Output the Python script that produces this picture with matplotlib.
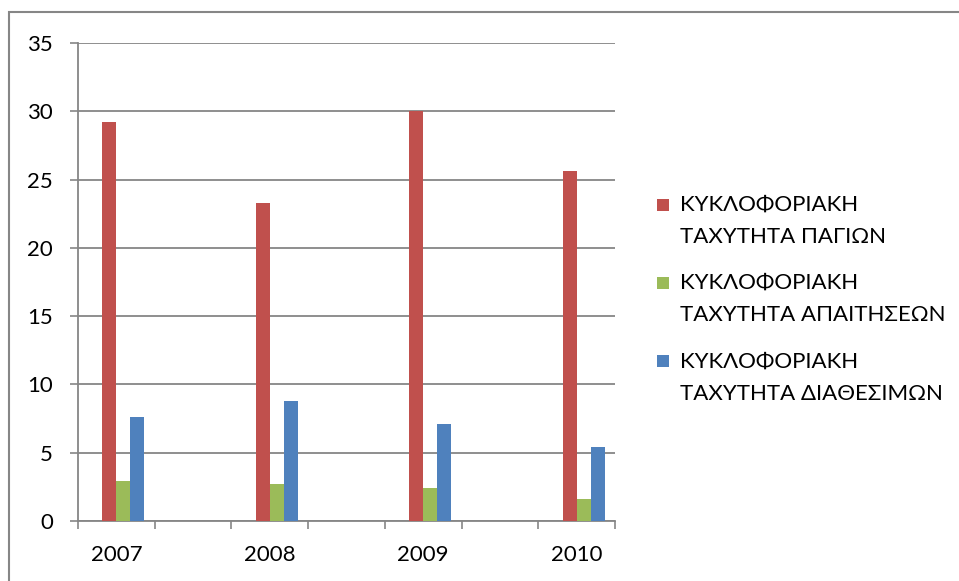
import matplotlib
matplotlib.use("Agg")
import matplotlib.pyplot as plt
import numpy as np
from matplotlib.container import BarContainer
from matplotlib.legend_handler import HandlerPatch
from matplotlib.patches import Rectangle

years = ["2007", "2008", "2009", "2010"]
fixed_assets = [29.2, 23.3, 30.0, 25.6]     # ΠΑΓΙΩΝ
receivables = [2.9, 2.7, 2.4, 1.6]          # ΑΠΑΙΤΗΣΕΩΝ
cash = [7.6, 8.8, 7.1, 5.4]                 # ΔΙΑΘΕΣΙΜΩΝ

series_labels = [
    "ΚΥΚΛΟΦΟΡΙΑΚΗ\nΤΑΧΥΤΗΤΑ ΠΑΓΙΩΝ",
    "ΚΥΚΛΟΦΟΡΙΑΚΗ\nΤΑΧΥΤΗΤΑ ΑΠΑΙΤΗΣΕΩΝ",
    "ΚΥΚΛΟΦΟΡΙΑΚΗ\nΤΑΧΥΤΗΤΑ ΔΙΑΘΕΣΙΜΩΝ",
]
colors = ["#C0504D", "#9BBB59", "#4F81BD"]
grid_color = "#868686"

plt.rcParams["font.family"] = ["Lato", "DejaVu Sans"]

FS = 16
LINESP = 1.77


class TopSquare(HandlerPatch):
    # put the legend square next to the first line of a two-line label
    def create_artists(self, legend, orig_handle, xdescent, ydescent,
                       width, height, fontsize, trans):
        s = 0.55 * fontsize
        off = 0.5 * LINESP * 0.84 * fontsize
        y = -ydescent + height / 2 - s / 2 + off
        fc = orig_handle.patches[0].get_facecolor()
        p = Rectangle((-xdescent, y), s, s, facecolor=fc,
                      edgecolor="none", transform=trans)
        return [p]


fig = plt.figure(figsize=(9.59, 5.81), dpi=100)
# outer chart border
fig.patches.append(Rectangle((9 / 959, -0.1), 1.2, 1 - 12 / 581 + 0.1,
                             transform=fig.transFigure, fill=False,
                             edgecolor=grid_color, linewidth=1.5))

ax = fig.add_axes([78 / 959, 1 - 521 / 581, (615 - 78) / 959, (521 - 43) / 581])

x = np.arange(len(years)) * 2
w = 0.182
for i, (vals, c, lab) in enumerate(zip([fixed_assets, receivables, cash], colors, series_labels)):
    ax.bar(x + (i - 0.5) * w, vals, width=w, color=c, label=lab, zorder=3)

ax.set_xlim(-0.5, 6.5)
ax.set_ylim(0, 35)
ax.set_yticks(np.arange(0, 36, 5))
ax.set_xticks(x)
ax.set_xticklabels(years)
ax.set_xticks(np.arange(-0.5, 7, 1), minor=True)
ax.tick_params(axis="x", which="major", length=0, pad=17, labelsize=FS)
ax.tick_params(axis="x", which="minor", length=6, width=1.2, color=grid_color)
ax.tick_params(axis="y", length=6, width=1.2, color=grid_color, pad=12, labelsize=FS)

ax.grid(axis="y", color=grid_color, linewidth=1.3, zorder=0)
for side in ["top", "right"]:
    ax.spines[side].set_visible(False)
for side in ["left", "bottom"]:
    ax.spines[side].set_color(grid_color)
    ax.spines[side].set_linewidth(1.3)

handles, labels = ax.get_legend_handles_labels()
leg = fig.legend(handles, labels, loc="upper left", bbox_to_anchor=(637 / 959, 1 - 175 / 581),
                 frameon=False, fontsize=FS, handlelength=0.55, handleheight=0.55,
                 handletextpad=0.5, labelspacing=1.16,
                 handler_map={BarContainer: TopSquare()})
for t in leg.get_texts():
    t.set_linespacing(LINESP)

fig.savefig("out.png", dpi=100)
